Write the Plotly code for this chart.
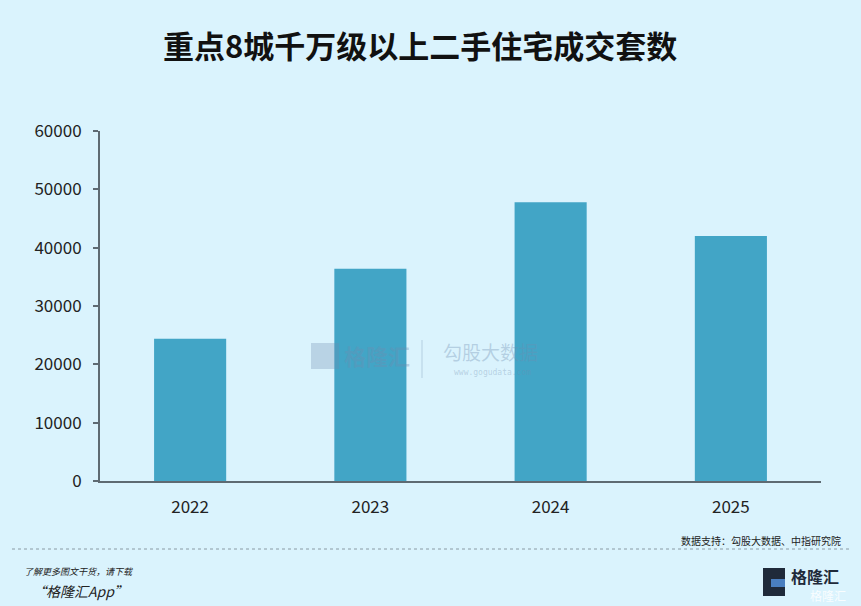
import plotly.graph_objects as go

# data
years = ['2022', '2023', '2024', '2025']
deals = [24400, 36400, 47800, 42000]
y_ticks = [0, 10000, 20000, 30000, 40000, 50000, 60000]

title_text = '重点8城千万级以上二手住宅成交套数'
source_text = '数据支持：勾股大数据、中指研究院'

bg = '#DAF3FD'
bar_color = '#42A5C6'
axis_color = '#5E6A72'
font_cn = 'Noto Sans CJK SC'

# plot area in pixels: x 100..821, y 131..481
def px(x):
    return (x - 100) / 721

def py(y):
    return (481 - y) / 350

fig = go.Figure()
fig.add_trace(go.Bar(x=years, y=deals, width=0.4, marker=dict(color=bar_color, line=dict(width=0)),
                     showlegend=False, hoverinfo='x+y'))

fig.update_layout(
    width=861, height=606,
    margin=dict(l=100, r=40, t=131, b=125),
    paper_bgcolor=bg, plot_bgcolor=bg,
    font=dict(family=font_cn, color='#222222'),
)

fig.update_xaxes(
    type='category', range=[-0.5, 3.5],
    showline=True, linecolor=axis_color, linewidth=2,
    showgrid=False, ticks='', tickfont=dict(size=17, color='#222222'),
    ticklabelstandoff=10,
)
fig.update_yaxes(
    range=[0, 60000], tickvals=y_ticks, ticktext=[str(v) for v in y_ticks],
    showline=True, linecolor=axis_color, linewidth=2,
    showgrid=False, zeroline=False, ticks='outside', ticklen=5, tickwidth=1.5, tickcolor=axis_color,
    tickfont=dict(size=17, color='#222222'), ticklabelstandoff=8,
)


def note(text, x, y, size, color='#222222', anchor='center', family=font_cn):
    fig.add_annotation(text=text, xref='paper', yref='paper', x=px(x), y=py(y),
                       xanchor=anchor, yanchor='middle', showarrow=False,
                       font=dict(size=size, color=color, family=family))


# title
note('<b>' + title_text + '</b>', 420, 45, 31, '#111111')

# watermark
wm = 'rgba(110,140,175,0.35)'
fig.add_shape(type='rect', xref='paper', yref='paper', x0=px(311), x1=px(339), y0=py(369), y1=py(343),
              fillcolor='rgba(110,140,175,0.3)', line=dict(width=0))
note('<b>格隆汇</b>', 377, 355, 22, wm)
note('勾股大数据', 490, 351, 19, wm)
note('www.gogudata.com', 492, 372, 8, wm, family='DejaVu Sans Mono')
fig.add_shape(type='line', xref='paper', yref='paper', x0=px(422), x1=px(422), y0=py(340), y1=py(378),
              line=dict(color=wm, width=1))

# source note and dotted separator
note(source_text, 843, 540, 10, anchor='right')
fig.add_shape(type='line', xref='paper', yref='paper', x0=px(12), x1=px(850), y0=py(549), y1=py(549),
              line=dict(color='#8a9aa4', width=1, dash='dot'))

# footer
note('<i>了解更多图文干货，请下载</i>', 22, 571, 9, anchor='left')
note('<i>“格隆汇App”</i>', 30, 591, 14, anchor='left')

# logo bottom right
fig.add_shape(type='rect', xref='paper', yref='paper', x0=px(763), x1=px(785), y0=py(596), y1=py(568),
              fillcolor='#1f2a3a', line=dict(width=0))
fig.add_shape(type='rect', xref='paper', yref='paper', x0=px(771), x1=px(785), y0=py(587), y1=py(579),
              fillcolor='#4a7fc0', line=dict(width=0))
note('<b>格隆汇</b>', 789, 576, 16, '#1f2a3a', anchor='left')
note('格隆汇', 808, 595, 12, 'rgba(255,255,255,0.85)', anchor='left')

fig.write_html('out.html', config={'displayModeBar': False},
               post_script="document.body.style.margin='0';document.body.style.background='" + bg + "';")
